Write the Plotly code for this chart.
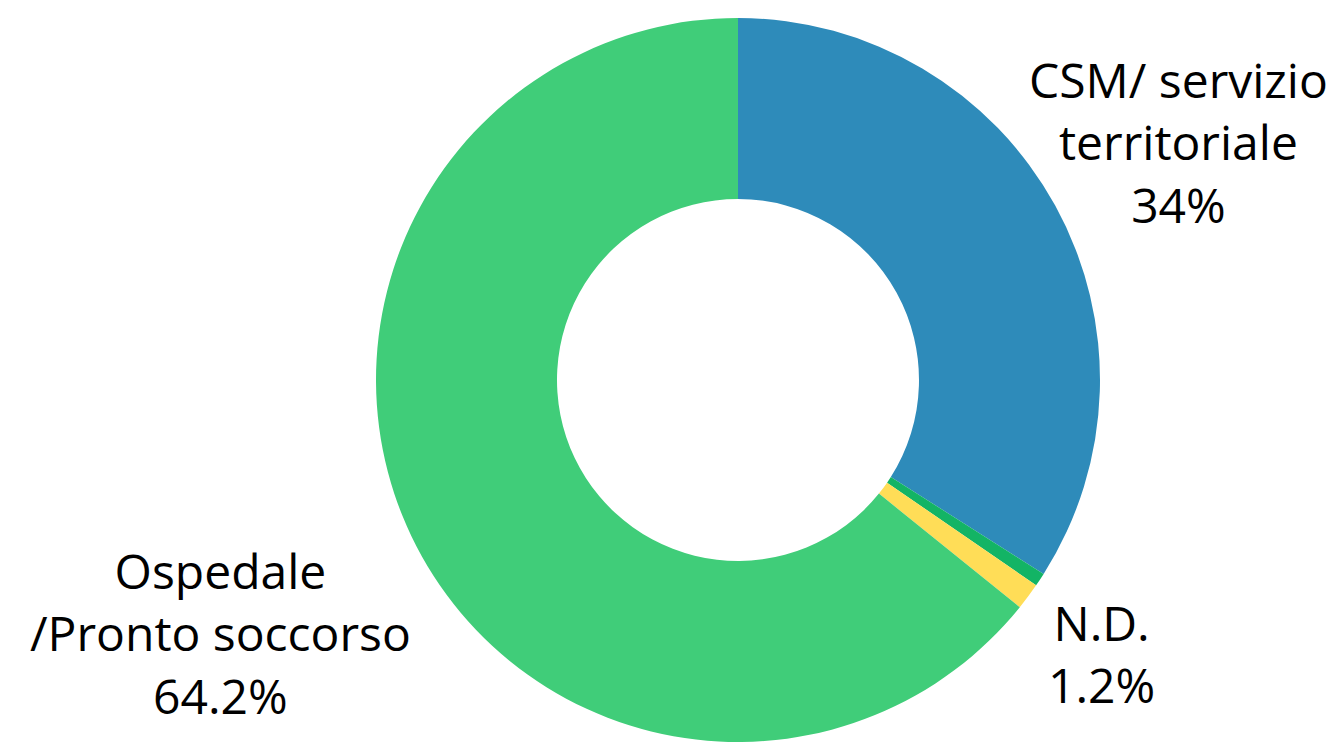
import plotly.graph_objects as go

# Provenienza delle richieste
labels = ["CSM/ servizio<br>territoriale", "Altro", "N.D.", "Ospedale<br>/Pronto soccorso"]
values = [34.0, 0.6, 1.2, 64.2]
colors = ["#2E8BBA", "#13B465", "#FFDD57", "#40CD79"]
shown = [True, False, True, True]

W, H = 1341, 742
M = dict(l=135, r=0, t=18, b=0)

# label anchor points (pixels, block centre) for the slices that carry a label
label_px = {0: (1178, 142), 2: (1101, 653), 3: (220, 633)}

fig = go.Figure(
    go.Pie(
        labels=labels,
        values=values,
        textinfo="none",
        automargin=False,
        hole=0.5,
        sort=False,
        direction="clockwise",
        rotation=0,
        marker=dict(colors=colors, line=dict(width=0)),
        showlegend=False,
        hoverinfo="label+percent",
    )
)

pw = W - M["l"] - M["r"]
ph = H - M["t"] - M["b"]
for i, (lab, val, s) in enumerate(zip(labels, values, shown)):
    if not s:
        continue
    px, py = label_px[i]
    fig.add_annotation(
        text=f"{lab}<br>{val:g}%",
        xref="paper", yref="paper",
        x=(px - M["l"]) / pw,
        y=1 - (py - M["t"]) / ph,
        xanchor="center", yanchor="middle",
        showarrow=False,
        align="center",
        font=dict(family="Open Sans", size=48, color="#000000"),
    )

fig.update_layout(
    width=W,
    height=H,
    margin=M,
    paper_bgcolor="white",
    plot_bgcolor="white",
)

fig.write_html("out.html")
